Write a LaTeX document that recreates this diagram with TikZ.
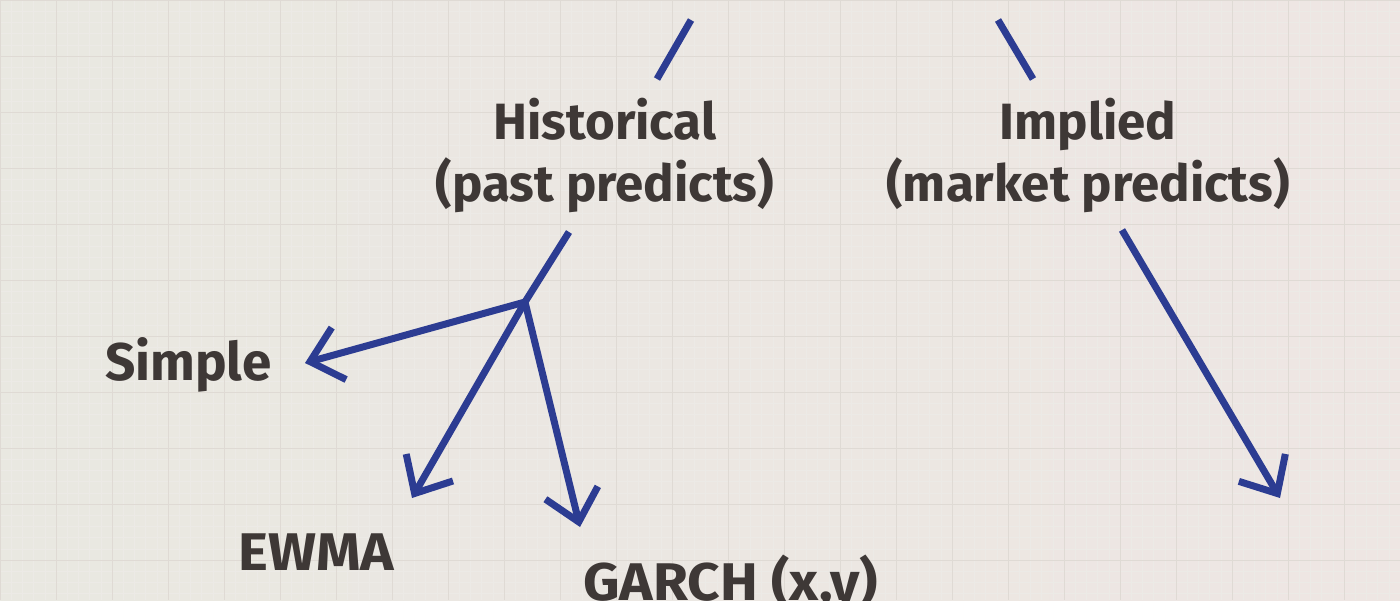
\documentclass[tikz,border=0pt]{standalone}
\usepackage{fontspec}
\setmainfont{Fira Sans}
\usetikzlibrary{arrows.meta}
\definecolor{bgL}{HTML}{E9E8E1}
\definecolor{bgR}{HTML}{EEE6E3}
\definecolor{gridc}{HTML}{D9D4CC}
\definecolor{inkc}{HTML}{3E3836}
\definecolor{bluec}{HTML}{2C3C92}
\tikzset{
  lbl/.style={text=inkc, font=\bfseries\fontsize{51}{62}\selectfont, align=center, inner sep=0pt},
  big/.style={lbl, font=\bfseries\fontsize{53}{62}\selectfont},
  wide/.style={lbl, font=\bfseries\fontsize{53}{62}\selectfont\addfontfeature{FakeStretch=1.07}},
  conn/.style={draw=bluec, line width=7pt},
  arr/.style={conn, -{Straight Barb[length=30pt,width=54pt]}},
  fine/.style={draw=gridc!50, line width=0.5pt},
  coarse/.style={draw=gridc!85, line width=0.9pt},
}
\begin{document}
\begin{tikzpicture}[x=1pt,y=-1pt]
\useasboundingbox (0,0) rectangle (1400,600);
\shade[left color=bgL, right color=bgR] (0,0) rectangle (1400,600);
\foreach \k in {0,11.2,...,1400} {\draw[fine] (\k,0) -- (\k,600);}
\foreach \k in {0,11.2,...,600} {\draw[fine] (0,\k) -- (1400,\k);}
\foreach \k in {0,56,...,1400} {\draw[coarse] (\k,0) -- (\k,600);}
\foreach \k in {0,56,...,600} {\draw[coarse] (0,\k) -- (1400,\k);}

% labels
\node[lbl, anchor=base] (hist) at (605,201) {Historical\\(past predicts)};
\node[lbl, anchor=base] (impl) at (1088,201) {Implied\\(market predicts)};
\node[big, anchor=base west] (simple) at (105,380) {Simple};
\node[wide, anchor=base west] (ewma) at (238,570) {EWMA};
\node[wide, anchor=base west] (garch) at (583,600) {GARCH (x,y)};

% connector ends
\coordinate (tl) at (691,20);
\coordinate (tlb) at (657,79);
\coordinate (tr) at (998,20);
\coordinate (trb) at (1033,79);
\coordinate (hb) at (569,232);
\coordinate (j) at (525,302);
\coordinate (ts) at (305,363);
\coordinate (te) at (412,498);
\coordinate (tg) at (580,527);
\coordinate (ib) at (1122,230);
\coordinate (ti) at (1280,498);

\draw[conn] (tl) -- (tlb);
\draw[conn] (tr) -- (trb);
\draw[conn] (hb) -- (j);
\draw[arr] (j) -- (ts);
\draw[arr] (j) -- (te);
\draw[arr] (j) -- (tg);
\draw[arr] (ib) -- (ti);
\end{tikzpicture}
\end{document}
